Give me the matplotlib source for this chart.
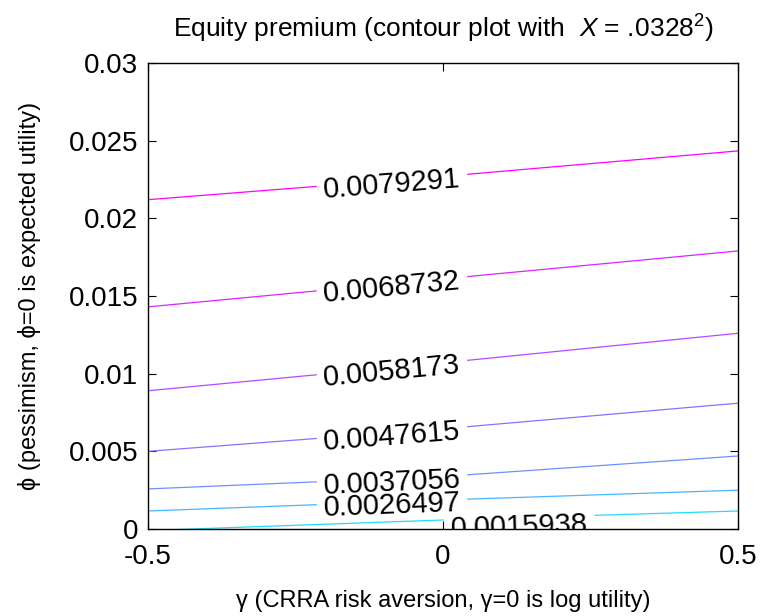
import numpy as np
import matplotlib
matplotlib.use("Agg")
import matplotlib.pyplot as plt
from matplotlib.transforms import offset_copy

gamma = [-0.5, 0.0, 0.5]

# contour levels and the phi value of each line at the gamma points above
levels = [0.0015938, 0.0026497, 0.0037056, 0.0047615, 0.0058173, 0.0068732, 0.0079291]
phi_l1 = [-0.00010, 0.00058, 0.00116]
phi_l2 = [0.00116, 0.00187, 0.00250]
phi_l3 = [0.00258, 0.00338, 0.00470]
phi_l4 = [0.00500, 0.00645, 0.00810]
phi_l5 = [0.00890, 0.01070, 0.01260]
phi_l6 = [0.01430, 0.01610, 0.01790]
phi_l7 = [0.02120, 0.02270, 0.02434]
contour_phi = [phi_l1, phi_l2, phi_l3, phi_l4, phi_l5, phi_l6, phi_l7]

x_ticks = [-0.5, 0, 0.5]
x_tick_labels = ["-0.5", "0", "0.5"]
y_ticks = [0, 0.005, 0.01, 0.015, 0.02, 0.025, 0.03]
y_tick_labels = ["0", "0.005", "0.01", "0.015", "0.02", "0.025", "0.03"]

# gaps (in gamma) left open in each line for its inline label
label_gaps = [(0.0, 0.258)] + [(-0.215, 0.042)] * 6
# small downward nudge of each label, in pixels
label_drop = [9] + [4] * 6

plt.rcParams["font.family"] = ["Liberation Sans", "DejaVu Sans"]
plt.rcParams["mathtext.fontset"] = "custom"
plt.rcParams["mathtext.rm"] = "Liberation Sans"
plt.rcParams["mathtext.it"] = "Liberation Sans:italic"

fig = plt.figure(figsize=(7.64, 6.16), dpi=100)
ax = fig.add_axes([148 / 764, 1 - 529 / 616, 590 / 764, 466 / 616])
ax.set_xlim(-0.5, 0.5)
ax.set_ylim(0, 0.03)

step = levels[1] - levels[0]
norm = plt.Normalize(levels[0] - step, levels[-1])
cmap = plt.get_cmap("cool")

for level, phi, (g0, g1), drop in zip(levels, contour_phi, label_gaps, label_drop):
    color = cmap(norm(level))
    xs = np.array(gamma)
    ys = np.array(phi)
    y0 = np.interp(g0, xs, ys)
    y1 = np.interp(g1, xs, ys)
    left = xs < g0
    right = xs > g1
    ax.plot(list(xs[left]) + [g0], list(ys[left]) + [y0], color=color, lw=0.9)
    ax.plot([g1] + list(xs[right]), [y1] + list(ys[right]), color=color, lw=0.9)

    # inline label, rotated to follow the line on screen
    gc = 0.5 * (g0 + g1)
    yc = np.interp(gc, xs, ys)
    p0, p1 = ax.transData.transform([(g0, y0), (g1, y1)])
    angle = np.degrees(np.arctan2(p1[1] - p0[1], p1[0] - p0[0]))
    trans = offset_copy(ax.transData, fig=fig, x=0, y=-drop, units="dots")
    ax.text(gc, yc, f"{level:.5g}", fontsize=21, rotation=angle,
            rotation_mode="anchor", ha="center", va="center",
            transform=trans, clip_on=True)

ax.set_xticks(x_ticks)
ax.set_xticklabels(x_tick_labels)
ax.set_yticks(y_ticks)
ax.set_yticklabels(y_tick_labels)
ax.tick_params(direction="in", top=True, right=True, length=6, width=0.8,
               labelsize=20, colors="black")
ax.tick_params(axis="x", pad=11)
ax.tick_params(axis="y", pad=7)
for spine in ax.spines.values():
    spine.set_linewidth(1.0)

ax.set_title(r"Equity premium (contour plot with  $X$ = $\mathit{.\!0328}^{\mathrm{2}}$)",
             fontsize=19, y=(529 - 38) / 466, pad=0)
ax.set_xlabel("γ (CRRA risk aversion, γ=0 is log utility)", fontsize=17)
ax.xaxis.set_label_coords(0.5, (529 - 601) / 466)
ax.xaxis.label.set_va("center")
ax.set_ylabel("ϕ (pessimism, ϕ=0 is expected utility)", fontsize=17)
ax.yaxis.set_label_coords((30 - 148) / 590, 0.5)
ax.yaxis.label.set_va("center")

fig.savefig("out.png", dpi=100)
